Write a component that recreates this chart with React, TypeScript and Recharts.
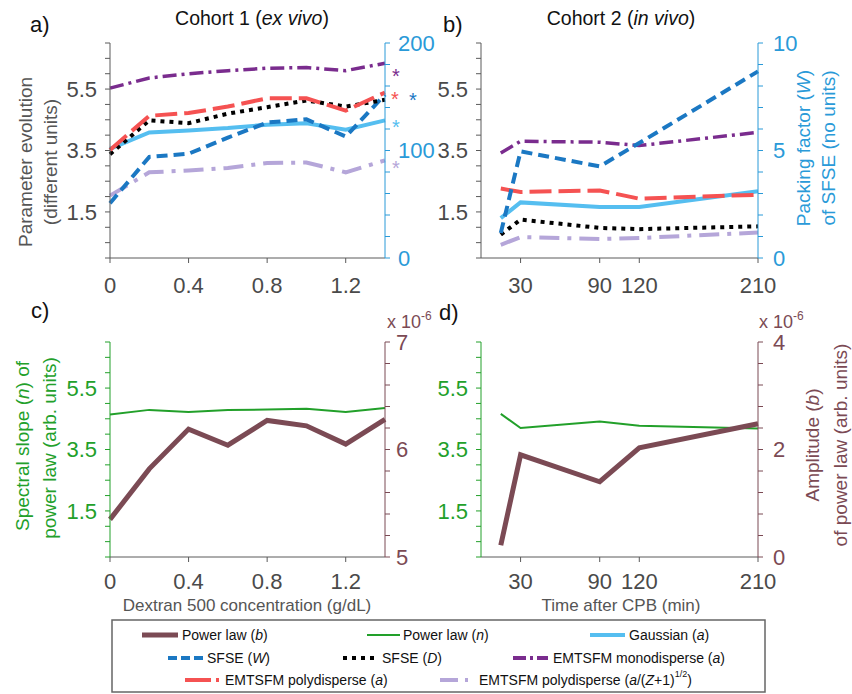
import React from "react";
import { LineChart, Line, XAxis, YAxis } from "recharts";

// cohort 1 (ex vivo), x = dextran 500 concentration (g/dL)
const c1Conc = [0, 0.2, 0.4, 0.6, 0.8, 1.0, 1.2, 1.4];
const c1Mono = [5.53, 5.86, 6.0, 6.1, 6.18, 6.2, 6.1, 6.34];
const c1PolyA = [3.52, 4.63, 4.72, 4.93, 5.2, 5.2, 4.8, 5.39];
const c1SfseD = [3.38, 4.48, 4.39, 4.7, 4.91, 5.13, 4.93, 5.15];
const c1Gauss = [3.55, 4.09, 4.15, 4.23, 4.34, 4.39, 4.18, 4.48];
const c1SfseW = [51, 94, 97, 112, 126, 129, 113, 152];
const c1PolyZ = [2.03, 2.79, 2.85, 2.93, 3.09, 3.11, 2.79, 3.18];
const c1N = [4.64, 4.79, 4.72, 4.79, 4.8, 4.83, 4.72, 4.85];
const c1B = [5.35, 5.82, 6.19, 6.04, 6.27, 6.22, 6.05, 6.28]; // x 10^-6

// cohort 2 (in vivo), x = time after CPB (min)
const c2Time = [15, 30, 90, 120, 210];
const c2Mono = [3.42, 3.8, 3.77, 3.66, 4.09];
const c2PolyA = [2.26, 2.15, 2.2, 1.93, 2.06];
const c2Gauss = [1.3, 1.81, 1.66, 1.66, 2.17];
const c2SfseD = [0.76, 1.25, 0.98, 0.94, 1.03];
const c2PolyZ = [0.43, 0.68, 0.62, 0.65, 0.83];
const c2SfseW = [1.16, 4.96, 4.26, 5.35, 8.68];
const c2N = [4.66, 4.2, 4.41, 4.27, 4.18];
const c2B = [0.22, 1.9, 1.4, 2.03, 2.48]; // x 10^-6

// ticks
const paramTicks = [0, 0.5, 1, 1.5, 2, 2.5, 3, 3.5, 4, 4.5, 5, 5.5, 6, 6.5, 7];
const paramMajor = [1.5, 3.5, 5.5];
const concTicks = [0, 0.4, 0.8, 1.2];
const timeTicks = [30, 90, 120, 210];
const wTicksA = [0, 20, 40, 60, 80, 100, 120, 140, 160, 180, 200];
const wMajorA = [0, 100, 200];
const wTicksB = [0, 1, 2, 3, 4, 5, 6, 7, 8, 9, 10];
const wMajorB = [0, 5, 10];
const bTicksC = [5, 5.2, 5.4, 5.6, 5.8, 6, 6.2, 6.4, 6.6, 6.8, 7];
const bMajorC = [5, 6, 7];
const bTicksD = [0, 0.4, 0.8, 1.2, 1.6, 2, 2.4, 2.8, 3.2, 3.6, 4];
const bMajorD = [0, 2, 4];

const c1Rows = c1Conc.map((x, i) => ({
  x, mono: c1Mono[i], polyA: c1PolyA[i], sfseD: c1SfseD[i], gauss: c1Gauss[i],
  sfseW: c1SfseW[i], polyZ: c1PolyZ[i], n: c1N[i], b: c1B[i],
}));
const c2Rows = c2Time.map((x, i) => ({
  x, mono: c2Mono[i], polyA: c2PolyA[i], sfseD: c2SfseD[i], gauss: c2Gauss[i],
  sfseW: c2SfseW[i], polyZ: c2PolyZ[i], n: c2N[i], b: c2B[i],
}));

const GREY = "#5a5a5a";
const TXT = "#4a4a4a";
const AXBLUE = "#2a9ad8";
const GREEN = "#22a02a";
const BROWN = "#7b4a54";

const S = {
  mono: { stroke: "#7a2c8e", strokeWidth: 3.5, strokeDasharray: "14 5 3 5" },
  polyA: { stroke: "#f55252", strokeWidth: 4, strokeDasharray: "22 7" },
  sfseD: { stroke: "#000000", strokeWidth: 4, strokeDasharray: "4 5" },
  gauss: { stroke: "#55bef0", strokeWidth: 4 },
  sfseW: { stroke: "#1b78c3", strokeWidth: 4, strokeDasharray: "11 6" },
  polyZ: { stroke: "#b5a6d9", strokeWidth: 4, strokeDasharray: "20 8 4 8" },
  n: { stroke: GREEN, strokeWidth: 2 },
  b: { stroke: BROWN, strokeWidth: 5 },
};

const fmt = (majors: number[]) => (v: number) =>
  majors.some((m) => Math.abs(m - v) < 1e-6) ? String(v) : "";

const star = (color: string, dx: number, dy: number, last: number) => (p: any) =>
  p.index === last ? (
    <text key={"s" + color} x={p.x + dx} y={p.y + dy} fill={color} fontSize={20} textAnchor="middle">*</text>
  ) : null;

const tick = (fill: string) => ({ fill, fontSize: 22 });

function Cohort1Top() {
  return (
    <LineChart width={440} height={310} data={c1Rows} margin={{ top: 43, right: 0, bottom: 0, left: 0 }}>
      <XAxis dataKey="x" type="number" domain={[0, 1.4]} ticks={concTicks} interval={0} height={52}
        stroke={GREY} tick={tick(TXT)} tickSize={5} tickMargin={14} />
      <YAxis yAxisId="l" domain={[0, 7]} ticks={paramTicks} interval={0} width={110} stroke={GREY}
        tick={tick(TXT)} tickFormatter={fmt(paramMajor)} tickSize={5} tickMargin={8} />
      <YAxis yAxisId="r" orientation="right" domain={[0, 200]} ticks={wTicksA} interval={0} width={55}
        stroke={AXBLUE} tick={tick(AXBLUE)} tickFormatter={fmt(wMajorA)} tickSize={5} tickMargin={8} />
      <Line yAxisId="l" dataKey="polyZ" {...S.polyZ} dot={false} isAnimationActive={false} label={star("#b5a6d9", 11, 15, 7)} />
      <Line yAxisId="l" dataKey="gauss" {...S.gauss} dot={false} isAnimationActive={false} label={star("#55bef0", 11, 14, 7)} />
      <Line yAxisId="r" dataKey="sfseW" {...S.sfseW} dot={false} isAnimationActive={false} label={star("#1b78c3", 28, 12, 7)} />
      <Line yAxisId="l" dataKey="sfseD" {...S.sfseD} dot={false} isAnimationActive={false} />
      <Line yAxisId="l" dataKey="polyA" {...S.polyA} dot={false} isAnimationActive={false} label={star("#f55252", 10, 14, 7)} />
      <Line yAxisId="l" dataKey="mono" {...S.mono} dot={false} isAnimationActive={false} label={star("#7a2c8e", 11, 20, 7)} />
    </LineChart>
  );
}

function Cohort2Top() {
  return (
    <LineChart width={426} height={310} data={c2Rows} margin={{ top: 43, right: 0, bottom: 0, left: 0 }}>
      <XAxis dataKey="x" type="number" domain={[0, 210]} ticks={timeTicks} interval={0} height={52}
        stroke={GREY} tick={tick(TXT)} tickSize={5} tickMargin={14} />
      <YAxis yAxisId="l" domain={[0, 7]} ticks={paramTicks} interval={0} width={55} stroke={GREY}
        tick={tick(TXT)} tickFormatter={fmt(paramMajor)} tickSize={5} tickMargin={8} />
      <YAxis yAxisId="r" orientation="right" domain={[0, 10]} ticks={wTicksB} interval={0} width={94}
        stroke={AXBLUE} tick={tick(AXBLUE)} tickFormatter={fmt(wMajorB)} tickSize={5} tickMargin={10} />
      <Line yAxisId="l" dataKey="polyZ" {...S.polyZ} dot={false} isAnimationActive={false} />
      <Line yAxisId="l" dataKey="sfseD" {...S.sfseD} dot={false} isAnimationActive={false} />
      <Line yAxisId="l" dataKey="gauss" {...S.gauss} dot={false} isAnimationActive={false} />
      <Line yAxisId="l" dataKey="polyA" {...S.polyA} dot={false} isAnimationActive={false} />
      <Line yAxisId="l" dataKey="mono" {...S.mono} dot={false} isAnimationActive={false} />
      <Line yAxisId="r" dataKey="sfseW" {...S.sfseW} dot={false} isAnimationActive={false} />
    </LineChart>
  );
}

function Cohort1Bottom() {
  return (
    <LineChart width={440} height={320} data={c1Rows} margin={{ top: 52, right: 0, bottom: 0, left: 0 }}>
      <XAxis dataKey="x" type="number" domain={[0, 1.4]} ticks={concTicks} interval={0} height={53}
        stroke={GREY} tick={tick(TXT)} tickSize={5} tickMargin={11} />
      <YAxis yAxisId="l" domain={[0, 7]} ticks={paramTicks} interval={0} width={110} stroke={GREEN}
        tick={tick(GREEN)} tickFormatter={fmt(paramMajor)} tickSize={5} tickMargin={8} />
      <YAxis yAxisId="r" orientation="right" domain={[5, 7]} ticks={bTicksC} interval={0} width={55}
        stroke={BROWN} tick={tick(BROWN)} tickFormatter={fmt(bMajorC)} tickSize={5} tickMargin={6} />
      <Line yAxisId="l" dataKey="n" {...S.n} dot={false} isAnimationActive={false} />
      <Line yAxisId="r" dataKey="b" {...S.b} dot={false} isAnimationActive={false} />
    </LineChart>
  );
}

function Cohort2Bottom() {
  return (
    <LineChart width={426} height={320} data={c2Rows} margin={{ top: 52, right: 0, bottom: 0, left: 0 }}>
      <XAxis dataKey="x" type="number" domain={[0, 210]} ticks={timeTicks} interval={0} height={53}
        stroke={GREY} tick={tick(TXT)} tickSize={5} tickMargin={11} />
      <YAxis yAxisId="l" domain={[0, 7]} ticks={paramTicks} interval={0} width={55} stroke={GREEN}
        tick={tick(GREEN)} tickFormatter={fmt(paramMajor)} tickSize={5} tickMargin={8} />
      <YAxis yAxisId="r" orientation="right" domain={[0, 4]} ticks={bTicksD} interval={0} width={94}
        stroke={BROWN} tick={tick(BROWN)} tickFormatter={fmt(bMajorD)} tickSize={5} tickMargin={10} />
      <Line yAxisId="l" dataKey="n" {...S.n} dot={false} isAnimationActive={false} />
      <Line yAxisId="r" dataKey="b" {...S.b} dot={false} isAnimationActive={false} />
    </LineChart>
  );
}

const vlabel = (x: number, y: number, color: string, content: React.ReactNode) => (
  <text transform={`translate(${x},${y}) rotate(-90)`} textAnchor="middle" dominantBaseline="central"
    fill={color} fontSize={19}>{content}</text>
);

const swatch = (x1: number, x2: number, y: number, st: any) => (
  <line x1={x1} x2={x2} y1={y} y2={y} stroke={st.stroke} strokeWidth={st.strokeWidth} strokeDasharray={st.dash} />
);

function Overlay() {
  const it = (s: string) => <tspan fontStyle="italic">{s}</tspan>;
  const r1 = 635, r2 = 658, r3 = 680;
  return (
    <svg width={852} height={694} style={{ position: "absolute", left: 0, top: 0, pointerEvents: "none" }}>
      <g fill="#111" fontSize={22}>
        <text x={30} y={32}>a)</text>
        <text x={443} y={32}>b)</text>
        <text x={31} y={318}>c)</text>
        <text x={439} y={320}>d)</text>
      </g>
      <g fill="#111" fontSize={19.5} textAnchor="middle">
        <text x={252} y={25}>Cohort 1 ({it("ex vivo")})</text>
        <text x={621} y={25}>Cohort 2 ({it("in vivo")})</text>
      </g>
      {vlabel(25, 162, "#555", "Parameter evolution")}
      {vlabel(50, 162, "#555", "(different units)")}
      {vlabel(803, 148, AXBLUE, <>Packing factor ({it("W")})</>)}
      {vlabel(828, 148, AXBLUE, "of SFSE (no units)")}
      {vlabel(22, 446, GREEN, <>Spectral slope ({it("n")}) of</>)}
      {vlabel(49, 448, GREEN, "power law (arb. units)")}
      {vlabel(812, 445, BROWN, <>Amplitude ({it("b")})</>)}
      {vlabel(840, 445, BROWN, "of power law (arb. units)")}
      <g fill={BROWN} fontSize={18}>
        <text x={387} y={328}>x 10<tspan fontSize={12} dy={-8}>-6</tspan></text>
        <text x={759} y={328}>x 10<tspan fontSize={12} dy={-8}>-6</tspan></text>
      </g>
      <g fill="#555" fontSize={17} textAnchor="middle">
        <text x={247} y={611}>Dextran 500 concentration (g/dL)</text>
        <text x={621} y={611}>Time after CPB (min)</text>
      </g>
      <rect x={112} y={620} width={653} height={72} fill="none" stroke="#666" strokeWidth={1.5} />
      {swatch(142, 178, r1, { stroke: S.b.stroke, strokeWidth: 5 })}
      {swatch(367, 400, r1, { stroke: GREEN, strokeWidth: 2 })}
      {swatch(590, 625, r1, { stroke: S.gauss.stroke, strokeWidth: 4 })}
      {swatch(168, 203, r2, { stroke: S.sfseW.stroke, strokeWidth: 4, dash: "9 4" })}
      {swatch(343, 378, r2, { stroke: "#000", strokeWidth: 4, dash: "4 5" })}
      {swatch(513, 548, r2, { stroke: S.mono.stroke, strokeWidth: 4, dash: "13 4 3 4 12 100" })}
      {swatch(185, 220, r3, { stroke: S.polyA.stroke, strokeWidth: 4, dash: "26 5 3 100" })}
      {swatch(440, 473, r3, { stroke: S.polyZ.stroke, strokeWidth: 4, dash: "18 7 3 100" })}
      <g fill="#111" fontSize={14} dominantBaseline="central">
        <text x={182} y={r1}>Power law ({it("b")})</text>
        <text x={403} y={r1}>Power law ({it("n")})</text>
        <text x={629} y={r1}>Gaussian ({it("a")})</text>
        <text x={207} y={r2}>SFSE ({it("W")})</text>
        <text x={382} y={r2}>SFSE ({it("D")})</text>
        <text x={553} y={r2}>EMTSFM monodisperse ({it("a")})</text>
        <text x={225} y={r3}>EMTSFM polydisperse ({it("a")})</text>
        <text x={479} y={r3}>
          EMTSFM polydisperse ({it("a")}/({it("Z")}+1)<tspan fontSize={9} dy={-6}>1/2</tspan><tspan dy={6}>)</tspan>
        </text>
      </g>
    </svg>
  );
}

export default function App() {
  return (
    <div style={{ position: "absolute", left: 0, top: 0, width: 852, height: 694, background: "#fff",
      fontFamily: "'Liberation Sans', Arial, sans-serif" }}>
      <div style={{ position: "absolute", left: 0, top: 0 }}><Cohort1Top /></div>
      <div style={{ position: "absolute", left: 426, top: 0 }}><Cohort2Top /></div>
      <div style={{ position: "absolute", left: 0, top: 290 }}><Cohort1Bottom /></div>
      <div style={{ position: "absolute", left: 426, top: 290 }}><Cohort2Bottom /></div>
      <Overlay />
    </div>
  );
}
